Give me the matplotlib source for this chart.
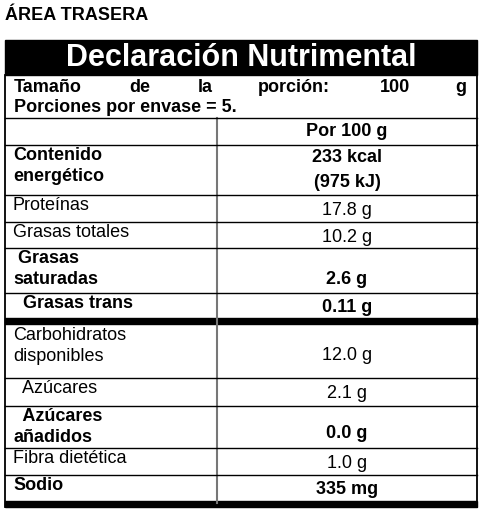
import matplotlib
matplotlib.use("Agg")
import matplotlib.pyplot as plt

plt.rcParams['font.family'] = ['Liberation Sans', 'DejaVu Sans']

title_top = "ÁREA TRASERA"
header = "Declaración Nutrimental"
portion_words = ["Tamaño", "de", "la", "porción:", "100", "g"]
portions_line = "Porciones por envase = 5."
col_header = "Por 100 g"
nutrients = ["Contenido\nenergético", "Proteínas", "Grasas totales", " Grasas\nsaturadas",
             "  Grasas trans", "Carbohidratos\ndisponibles", "  Azúcares", "  Azúcares\nañadidos",
             "Fibra dietética", "Sodio"]
values = ["233 kcal\n(975 kJ)", "17.8 g", "10.2 g", "2.6 g", "0.11 g", "12.0 g", "2.1 g",
          "0.0 g", "1.0 g", "335 mg"]
bold = [True, False, False, True, True, False, False, True, False, True]

FS = 13
fig = plt.figure(figsize=(4.82, 5.16), dpi=100)
ax = fig.add_axes([0, 0, 1, 1])
ax.set_xlim(0, 482)
ax.set_ylim(516, 0)
ax.axis('off')

L, R, D = 5, 477, 217
ax.text(5, 16, title_top, fontsize=13, fontweight='bold', va='center', ha='left')
ax.add_patch(plt.Rectangle((L, 40), R - L, 35, color='black'))
ax.text((L + R) / 2, 58, header, color='white', fontsize=22, fontweight='bold', ha='center', va='center')

xs = [14, 129, 198, 258, 380, 455]
for w, x in zip(portion_words, xs):
    ax.text(x, 88, w, fontsize=FS, fontweight='bold', va='center', ha='left')
ax.text(14, 107, portions_line, fontsize=FS, fontweight='bold', va='center')

bounds = [118, 145, 195, 222, 248, 293, 321, 378, 406, 448, 475, 503]
ax.text((D + R) / 2, 132, col_header, fontsize=FS, fontweight='bold', ha='center', va='center')

ax.plot([L, L], [75, 507], color='black', lw=1.3)
ax.plot([R, R], [75, 507], color='black', lw=1.3)
ax.plot([D, D], [118, 503], color='#777777', lw=1.5)
for b in bounds[:-1]:
    if b == 321:
        ax.add_patch(plt.Rectangle((L, 318), R - L, 6, color='black'))
    else:
        ax.plot([L, R], [b, b], color='black', lw=1)
ax.add_patch(plt.Rectangle((L, 501), R - L, 6, color='black'))

for i, (n, v, b) in enumerate(zip(nutrients, values, bold)):
    top, bot = bounds[i + 1], bounds[i + 2]
    if i == 4:
        top, bot = 293, 318
    if i == 5:
        top = 325
    if i == 9:
        bot = 501
    fw = 'bold' if b else 'normal'
    ax.text(13, top + 2, n, fontsize=FS, fontweight=fw, ha='left', va='top', linespacing=1.3)
    if '\n' in v:
        ax.text((D + R) / 2, (top + bot) / 2, v, fontsize=FS, fontweight=fw, ha='center', va='center', linespacing=1.55)
    elif i == 5:
        ax.text((D + R) / 2, bot - 22, v, fontsize=FS, fontweight=fw, ha='center', va='center')
    elif '\n' in n:
        ax.text((D + R) / 2, bot - 14, v, fontsize=FS, fontweight=fw, ha='center', va='center')
    else:
        ax.text((D + R) / 2, (top + bot) / 2 + 2, v, fontsize=FS, fontweight=fw, ha='center', va='center')

fig.savefig("out.png", dpi=100)
